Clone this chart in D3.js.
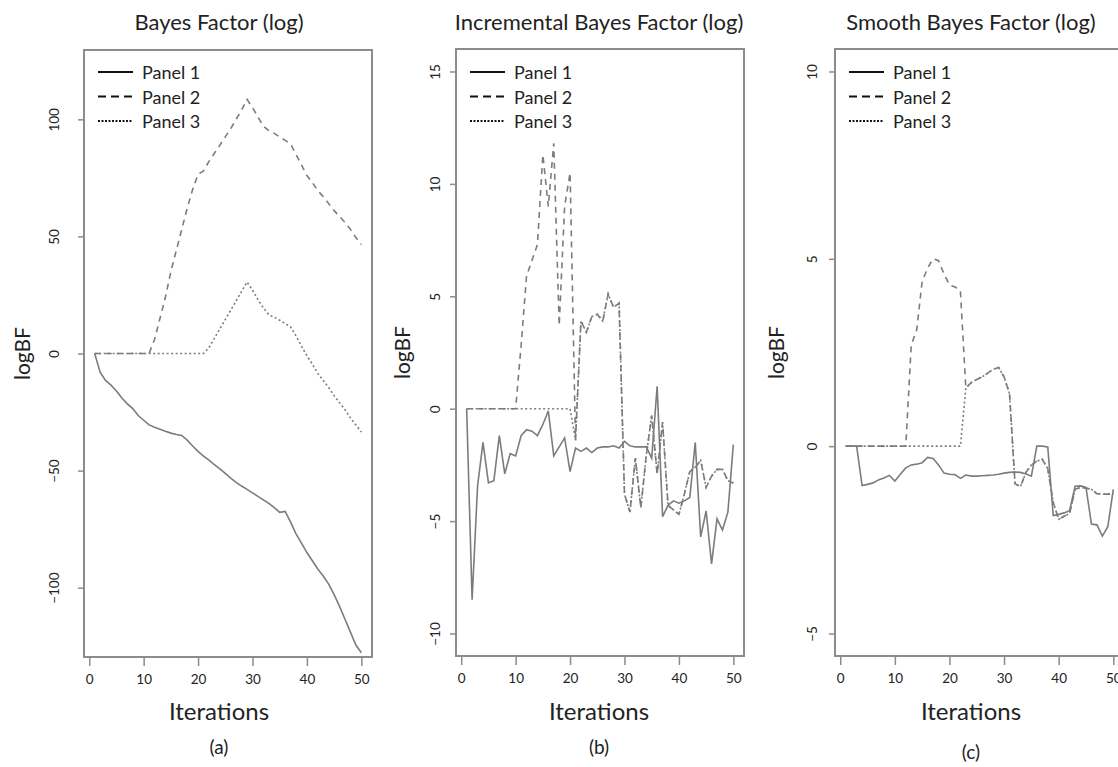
<!DOCTYPE html>
<html>
<head>
<meta charset="utf-8">
<script src="https://cdn.jsdelivr.net/npm/d3@7"></script>
<style>
  body { margin: 0; background: #fff; }
  svg text { font-family: Lato, "Open Sans", sans-serif; fill: #222; }
</style>
</head>
<body>
<svg id="chart" width="1118" height="767"></svg>
<script>
// iteration index (x)
const iterations = [1, 2, 3, 4, 5, 6, 7, 8, 9, 10, 11, 12, 13, 14, 15, 16, 17, 18, 19, 20,
    21, 22, 23, 24, 25, 26, 27, 28, 29, 30, 31, 32, 33, 34, 35, 36, 37, 38, 39, 40,
    41, 42, 43, 44, 45, 46, 47, 48, 49, 50];

const seriesNames = ["Panel 1", "Panel 2", "Panel 3"];
const xTicks = [0, 10, 20, 30, 40, 50];

// (a) Bayes Factor (log)
const bfPanel1 = [0, -8, -11.5, -13.5, -16, -19, -21.5, -23.5, -26.5, -28.5,
    -30.5, -31.5, -32.3, -33.2, -34, -34.6, -35, -37, -39.5, -41.8,
    -43.8, -45.5, -47.5, -49.3, -51.2, -53.2, -55, -56.6, -58, -59.5,
    -61, -62.5, -64, -65.8, -67.8, -67.4, -72, -77, -81, -85,
    -88.5, -92, -95, -98.5, -103, -108, -113.5, -119, -124.5, -127.8];
const bfPanel2 = [0, 0, 0, 0, 0, 0, 0, 0, 0, 0,
    0, 6, 15, 24, 35, 44, 53, 62, 70, 76.5,
    78, 82, 85.5, 89, 92.5, 96, 100, 104, 108.5, 105,
    101, 97, 95.2, 94, 92.5, 91, 89.5, 85, 80.5, 76,
    73, 69.5, 67, 64, 61, 58.5, 56, 53, 49.5, 46.5];
const bfPanel3 = [0, 0, 0, 0, 0, 0, 0, 0, 0, 0,
    0, 0, 0, 0, 0, 0, 0, 0, 0, 0,
    0, 2.5, 6.5, 10.5, 14.5, 18.5, 22.5, 26.5, 30.5, 27,
    23, 19.5, 16.5, 15.5, 14.2, 12.8, 11.3, 7.5, 3.2, -1,
    -4.5, -8.5, -11.5, -14.5, -18, -21, -24, -27.5, -30.5, -33.5];
const bfTicks = [-100, -50, 0, 50, 100];

// (b) Incremental Bayes Factor (log)
const incPanel1 = [0, -8.5, -3.45, -1.5, -3.3, -3.2, -1.2, -2.9, -2.0, -2.1,
    -1.2, -0.93, -1.0, -1.2, -0.7, -0.1, -2.1, -1.7, -1.3, -2.8,
    -1.75, -1.9, -1.75, -1.95, -1.75, -1.7, -1.7, -1.65, -1.75, -1.45,
    -1.65, -1.7, -1.7, -1.7, -2.2, 1.0, -4.8, -4.3, -4.1, -4.2,
    -4.1, -3.95, -1.5, -5.7, -4.55, -6.9, -4.9, -5.4, -4.6, -1.6];
const incPanel2 = [0, 0, 0, 0, 0, 0, 0, 0, 0, 0,
    2.8, 5.9, 6.6, 7.3, 11.3, 9.0, 11.8, 3.7, 9.0, 10.5,
    -1.4, 3.9, 3.4, 4.1, 4.2, 3.9, 5.1, 4.5, 4.7, -3.8,
    -4.6, -2.2, -4.4, -2.1, -0.3, -2.9, -0.6, -4.3, -4.5, -4.7,
    -3.8, -2.8, -2.6, -2.3, -3.5, -3.0, -2.7, -2.7, -3.2, -3.3];
const incPanel3 = [0, 0, 0, 0, 0, 0, 0, 0, 0, 0,
    0, 0, 0, 0, 0, 0, 0, 0, 0, 0,
    -1.4, 3.9, 3.4, 4.1, 4.2, 3.9, 5.1, 4.5, 4.7, -3.8,
    -4.6, -2.2, -4.4, -2.1, -0.3, -2.9, -0.6, -4.3, -4.5, -4.7,
    -3.8, -2.8, -2.6, -2.3, -3.5, -3.0, -2.7, -2.7, -3.2, -3.3];
const incTicks = [-10, -5, 0, 5, 10, 15];

// (c) Smooth Bayes Factor (log)
const smoothPanel1 = [0, 0, 0, -1.05, -1.02, -0.98, -0.9, -0.85, -0.78, -0.93,
    -0.75, -0.58, -0.5, -0.48, -0.44, -0.3, -0.33, -0.5, -0.72, -0.75,
    -0.76, -0.86, -0.77, -0.8, -0.8, -0.79, -0.78, -0.77, -0.75, -0.72,
    -0.7, -0.69, -0.7, -0.74, -0.8, 0, 0, -0.02, -1.85, -1.82,
    -1.78, -1.72, -1.07, -1.06, -1.1, -2.08, -2.1, -2.4, -2.15, -1.15];
const smoothPanel2 = [0, 0, 0, 0, 0, 0, 0, 0, 0, 0,
    0, 0, 2.7, 3.1, 4.4, 4.75, 5.0, 4.95, 4.6, 4.3,
    4.25, 4.15, 1.55, 1.7, 1.78, 1.85, 1.95, 2.05, 2.1, 1.85,
    1.4, -1.0, -1.08, -0.7, -0.5, -0.4, -0.35, -0.6, -1.5, -1.95,
    -1.87, -1.8, -1.15, -1.1, -1.12, -1.15, -1.27, -1.28, -1.28, -1.28];
const smoothPanel3 = [0, 0, 0, 0, 0, 0, 0, 0, 0, 0,
    0, 0, 0, 0, 0, 0, 0, 0, 0, 0,
    0, 0, 1.55, 1.7, 1.78, 1.85, 1.95, 2.05, 2.1, 1.85,
    1.4, -1.0, -1.08, -0.7, -0.5, -0.4, -0.35, -0.6, -1.5, -1.95,
    -1.87, -1.8, -1.15, -1.1, -1.12, -1.15, -1.27, -1.28, -1.28, -1.28];
const smoothTicks = [-5, 0, 5, 10];

// line styles per series (solid, dashed, dotted)
const lineDash = [null, "6,5", "2,2.5"];
const legendDash = [null, "8,5", "2,1.5"];

class BFPanel {
    constructor(_config, _series) {
        this.config = _config;
        this.series = _series;
        this.initVis();
    }

    initVis() {
        let vis = this;
        const c = vis.config;

        vis.g = d3.select("#chart").append("g");

        // R style xlim/ylim with 4% padding
        vis.x = d3.scaleLinear().domain([-0.96, 51.96]).range([c.left, c.right]);
        vis.y = d3.scaleLinear().domain(c.yDomain).range([c.bottom, c.top]);

        vis.renderVis();
    }

    renderVis() {
        let vis = this;
        const c = vis.config;

        // data lines
        const line = d3.line()
            .x((d, i) => vis.x(iterations[i]))
            .y(d => vis.y(d));

        vis.g.append("g")
            .selectAll("path")
            .data(vis.series)
            .join("path")
            .attr("d", d => line(d))
            .attr("fill", "none")
            .attr("stroke", "#7c7c7c")
            .attr("stroke-width", 1.6)
            .attr("stroke-dasharray", (d, i) => lineDash[i]);

        // box
        vis.g.append("rect")
            .attr("x", c.left)
            .attr("y", c.top)
            .attr("width", c.right - c.left)
            .attr("height", c.bottom - c.top)
            .attr("fill", "none")
            .attr("stroke", "#8c8c8c")
            .attr("stroke-width", 2);

        // x axis
        const xAxis = d3.axisBottom(vis.x)
            .tickValues(xTicks)
            .tickSize(9)
            .tickPadding(8);
        const xg = vis.g.append("g")
            .attr("transform", `translate(0,${c.bottom})`)
            .call(xAxis);
        xg.select(".domain").remove();
        xg.selectAll(".tick line").attr("stroke", "#8c8c8c").attr("stroke-width", 1.5);
        xg.selectAll(".tick text")
            .style("font-family", "Lato, sans-serif")
            .style("font-size", "13.5px")
            .attr("fill", "#222");

        // y axis (labels parallel to axis)
        const yAxis = d3.axisLeft(vis.y)
            .tickValues(c.yTicks)
            .tickSize(6)
            .tickFormat(d3.format("d"));
        const yg = vis.g.append("g")
            .attr("transform", `translate(${c.left},0)`)
            .call(yAxis);
        yg.select(".domain").remove();
        yg.selectAll(".tick line").attr("stroke", "#8c8c8c").attr("stroke-width", 1.5);
        yg.selectAll(".tick text")
            .attr("x", null)
            .attr("dy", null)
            .attr("transform", `translate(${-c.yLabelOffset},0) rotate(-90)`)
            .attr("text-anchor", "middle")
            .attr("dominant-baseline", "central")
            .style("font-family", "Lato, sans-serif")
            .style("font-size", "13.5px")
            .attr("fill", "#222");

        // titles and labels
        vis.g.append("text")
            .attr("x", c.labelX)
            .attr("y", 30)
            .attr("text-anchor", "middle")
            .style("font-size", "22px")
            .text(c.title);

        vis.g.append("text")
            .attr("x", c.labelX)
            .attr("y", 720)
            .attr("text-anchor", "middle")
            .style("font-size", "24px")
            .text("Iterations");

        vis.g.append("text")
            .attr("x", c.labelX)
            .attr("y", c.subY)
            .attr("text-anchor", "middle")
            .style("font-size", "19px")
            .text(c.sub);

        vis.g.append("text")
            .attr("transform", `translate(${c.left - c.axisTitleOffset},${(c.top + c.bottom) / 2}) rotate(-90)`)
            .attr("text-anchor", "middle")
            .attr("dominant-baseline", "central")
            .style("font-size", "21px")
            .text("logBF");

        // legend
        const legend = vis.g.append("g")
            .selectAll("g")
            .data(seriesNames)
            .join("g")
            .attr("transform", (d, i) => `translate(${c.left + 14},${72 + i * 24.5})`);

        legend.append("line")
            .attr("x1", 0)
            .attr("x2", 35)
            .attr("stroke", "#111")
            .attr("stroke-width", 2.2)
            .attr("stroke-dasharray", (d, i) => legendDash[i]);

        legend.append("text")
            .attr("x", 44)
            .attr("dominant-baseline", "central")
            .style("font-size", "18px")
            .text(d => d);
    }
}

new BFPanel({
    left: 84, right: 372, top: 50, bottom: 657,
    yDomain: [-129.6, 129.6], yTicks: bfTicks,
    yLabelOffset: 30, axisTitleOffset: 63,
    labelX: 219, subY: 754,
    title: "Bayes Factor (log)", sub: "(a)"
}, [bfPanel1, bfPanel2, bfPanel3]);

new BFPanel({
    left: 456, right: 744, top: 49, bottom: 656,
    yDomain: [-11, 16], yTicks: incTicks,
    yLabelOffset: 21, axisTitleOffset: 55,
    labelX: 599, subY: 754,
    title: "Incremental Bayes Factor (log)", sub: "(b)"
}, [incPanel1, incPanel2, incPanel3]);

new BFPanel({
    left: 835, right: 1124, top: 49, bottom: 656,
    yDomain: [-5.6, 10.6], yTicks: smoothTicks,
    yLabelOffset: 23, axisTitleOffset: 60,
    labelX: 971, subY: 759,
    title: "Smooth Bayes Factor (log)", sub: "(c)"
}, [smoothPanel1, smoothPanel2, smoothPanel3]);
</script>
</body>
</html>
